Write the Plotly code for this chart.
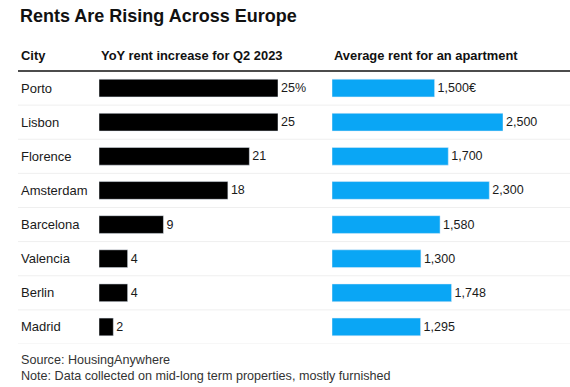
import plotly.graph_objects as go

cities = ["Porto", "Lisbon", "Florence", "Amsterdam", "Barcelona", "Valencia", "Berlin", "Madrid"]
yoy_increase = [25, 25, 21, 18, 9, 4, 4, 2]
avg_rent = [1500, 2500, 1700, 2300, 1580, 1300, 1748, 1295]

yoy_labels = [f"{v}%" if i == 0 else f"{v}" for i, v in enumerate(yoy_increase)]
rent_labels = [f"{v:,}€" if i == 0 else f"{v:,}" for i, v in enumerate(avg_rent)]

W, H = 570, 387
px = lambda x: x / W
py = lambda y: 1 - y / H

FONT = "Liberation Sans, Arial, sans-serif"
TXT = "#1a1a1a"

fig = go.Figure()
fig.add_trace(go.Bar(
    x=yoy_increase, y=cities, orientation="h", marker_color="#000000",
    width=0.52, text=yoy_labels, textposition="outside", cliponaxis=False,
    textfont=dict(family=FONT, size=12.5, color=TXT),
    xaxis="x", yaxis="y", hoverinfo="skip"))
fig.add_trace(go.Bar(
    x=avg_rent, y=cities, orientation="h", marker_color="#0AA6F5",
    width=0.52, text=rent_labels, textposition="outside", cliponaxis=False,
    textfont=dict(family=FONT, size=12.5, color=TXT),
    xaxis="x2", yaxis="y2", hoverinfo="skip"))

ydom = [py(344), py(71)]
yax = dict(domain=ydom, type="category", categoryorder="array", categoryarray=cities,
           autorange=False, range=[len(cities) - 0.5, -0.5], showticklabels=False,
           showgrid=False, zeroline=False, fixedrange=True)

fig.update_layout(
    width=W, height=H, margin=dict(l=0, r=0, t=0, b=0),
    paper_bgcolor="white", plot_bgcolor="rgba(0,0,0,0)", showlegend=False,
    font=dict(family=FONT, color=TXT),
    bargap=0, hovermode=False,
    xaxis=dict(domain=[px(99), px(278)], range=[0, 25], visible=False, anchor="y", fixedrange=True),
    xaxis2=dict(domain=[px(332), px(503)], range=[0, 2500], visible=False, anchor="y2", fixedrange=True),
    yaxis=dict(**yax, anchor="x"),
    yaxis2=dict(**yax, anchor="x2"),
)

shapes = []
shapes.append(dict(type="line", xref="paper", yref="paper", x0=px(18), x1=1, y0=py(71), y1=py(71),
                   line=dict(color="#111111", width=1.5)))
for i in range(len(cities)):
    shapes.append(dict(type="line", xref="paper", yref="y", x0=px(18), x1=1, y0=i + 0.5, y1=i + 0.5,
                       line=dict(color="#efefef", width=1), layer="below"))
fig.update_layout(shapes=shapes)

ann = []
ann.append(dict(text="<b>Rents Are Rising Across Europe</b>", x=px(18), y=py(16), xref="paper", yref="paper",
                xanchor="left", yanchor="middle", showarrow=False,
                font=dict(family=FONT, size=18, color="#111111")))
for txt, x in [("City", 19), ("YoY rent increase for Q2 2023", 99), ("Average rent for an apartment", 332)]:
    ann.append(dict(text=f"<b>{txt}</b>", x=px(x), y=py(55), xref="paper", yref="paper",
                    xanchor="left", yanchor="middle", showarrow=False,
                    font=dict(family=FONT, size=12.9, color="#111111")))
for c in cities:
    ann.append(dict(text=c, x=px(19), y=c, xref="paper", yref="y", xanchor="left", yanchor="middle",
                    showarrow=False, font=dict(family=FONT, size=13, color=TXT)))
ann.append(dict(text="Source: HousingAnywhere<br>Note: Data collected on mid-long term properties, mostly furnished",
                x=px(19), y=py(351), xref="paper", yref="paper", xanchor="left", yanchor="top",
                align="left", showarrow=False, font=dict(family=FONT, size=12.6, color="#333333")))
fig.update_layout(annotations=ann)

fig.write_html("out.html", config={"displayModeBar": False, "staticPlot": True},
               post_script="document.body.style.margin='0';document.body.style.overflow='hidden';")
